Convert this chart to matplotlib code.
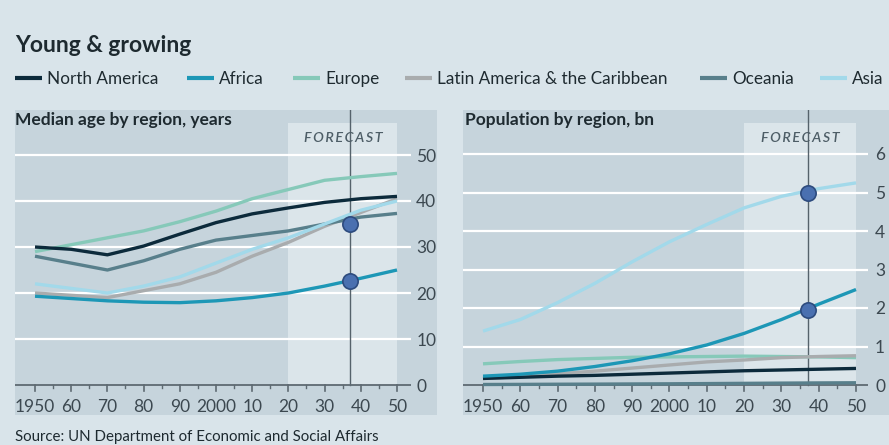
import matplotlib
matplotlib.use("Agg")
import matplotlib.pyplot as plt
from matplotlib.lines import Line2D
from matplotlib.patches import Rectangle

plt.rcParams['font.family'] = ['Lato', 'DejaVu Sans']

# ---------------- data ----------------
years = [1950, 1960, 1970, 1980, 1990, 2000, 2010, 2020, 2030, 2040, 2050]
regions = ["North America", "Africa", "Europe", "Latin America & the Caribbean", "Oceania", "Asia"]

age_north_america = [30.0, 29.5, 28.3, 30.2, 32.8, 35.3, 37.2, 38.5, 39.7, 40.5, 41.0]
age_africa        = [19.3, 18.8, 18.3, 18.0, 17.9, 18.3, 19.0, 20.0, 21.5, 23.2, 25.0]
age_europe        = [29.0, 30.5, 32.0, 33.5, 35.5, 37.8, 40.5, 42.5, 44.5, 45.3, 46.0]
age_latin         = [20.0, 19.5, 19.0, 20.5, 22.0, 24.5, 28.0, 31.0, 34.5, 37.5, 40.5]
age_oceania       = [28.0, 26.5, 25.0, 27.0, 29.5, 31.5, 32.5, 33.5, 35.0, 36.5, 37.3]
age_asia          = [22.0, 21.0, 20.0, 21.5, 23.5, 26.5, 29.5, 32.0, 35.0, 38.0, 40.0]

pop_north_america = [0.17, 0.20, 0.23, 0.25, 0.28, 0.31, 0.34, 0.37, 0.39, 0.41, 0.43]
pop_africa        = [0.23, 0.28, 0.36, 0.48, 0.63, 0.81, 1.04, 1.34, 1.70, 2.10, 2.48]
pop_europe        = [0.55, 0.61, 0.66, 0.69, 0.72, 0.73, 0.74, 0.75, 0.74, 0.73, 0.71]
pop_latin         = [0.17, 0.22, 0.29, 0.36, 0.44, 0.52, 0.60, 0.65, 0.71, 0.74, 0.76]
pop_oceania       = [0.013, 0.016, 0.020, 0.023, 0.027, 0.031, 0.037, 0.043, 0.049, 0.054, 0.058]
pop_asia          = [1.40, 1.70, 2.14, 2.64, 3.20, 3.72, 4.17, 4.60, 4.90, 5.10, 5.25]

marker_year = 2037
age_markers = [35.0, 22.7]
pop_markers = [5.0, 1.95]

forecast_start, forecast_end = 2020, 2050
xtick_years = [1950, 1960, 1970, 1980, 1990, 2000, 2010, 2020, 2030, 2040, 2050]
xtick_labels = ["1950", "60", "70", "80", "90", "2000", "10", "20", "30", "40", "50"]
age_ticks = [0, 10, 20, 30, 40, 50]
pop_ticks = [0, 1, 2, 3, 4, 5, 6]

# ---------------- style ----------------
FIG_BG = "#d9e4ea"
PANEL_BG = "#c6d4dc"
FORE_BG = "#dbe5ea"
colors = {
    "North America": "#0c2a3b",
    "Africa": "#1d97b6",
    "Europe": "#86c9b9",
    "Latin America & the Caribbean": "#a9acae",
    "Oceania": "#587f8b",
    "Asia": "#a2d9ea",
}
TEXT = "#1e2a30"
TICKC = "#3c4850"
AXC = "#5e6a72"

W, H = 889, 445
fig = plt.figure(figsize=(W / 100, H / 100), dpi=100, facecolor=FIG_BG)


def px_ax(x0, y0, x1, y1):
    return [x0 / W, 1 - y1 / H, (x1 - x0) / W, (y1 - y0) / H]


def setup(ax, xlim, ylim, yticks, grid_end, fore_top, pad):
    ax.set_facecolor(PANEL_BG)
    ax.set_xlim(*xlim)
    ax.set_ylim(*ylim)
    for s in ax.spines.values():
        s.set_visible(False)
    ax.add_patch(Rectangle((forecast_start, 0), forecast_end - forecast_start, fore_top,
                           facecolor=FORE_BG, edgecolor="none", zorder=0.5))
    for t in yticks[1:]:
        ax.plot([xlim[0], grid_end], [t, t], color="white", lw=1.6, zorder=1,
                solid_capstyle="butt")
    ax.plot([xlim[0], grid_end], [0, 0], color=AXC, lw=1.3, zorder=4,
            solid_capstyle="butt")
    ax.set_yticks(yticks)
    ax.set_yticklabels([str(t) for t in yticks])
    ax.tick_params(axis="y", left=False, right=False, labelleft=False, labelright=True,
                   pad=pad, labelsize=12.5, labelcolor=TICKC)
    ax.set_xticks(xtick_years)
    ax.set_xticklabels(xtick_labels)
    ax.tick_params(axis="x", which="major", direction="in", length=0, pad=-11.5,
                   labelsize=12.5, labelcolor=TICKC)
    ax.tick_params(axis="x", which="minor", length=0)
    # tick marks below axis line
    tl = (ylim[1] - ylim[0]) * 6 / 305
    for x in xtick_years:
        ax.plot([x, x], [0, -tl], color=AXC, lw=1.2, zorder=4)
    for x in range(1955, 2050, 10):
        ax.plot([x, x], [0, -tl * 0.55], color=AXC, lw=1.0, zorder=4)
    ax.plot([marker_year, marker_year], [0, ylim[1]], color="#55626b", lw=1.0, zorder=3)


FORECAST = "F\u2009O\u2009R\u2009E\u2009C\u2009A\u2009S\u2009T"

# left panel
axL = fig.add_axes(px_ax(15, 110, 437, 415))
xlimL = (1950 - 20 / 3.62, 2050 + 40 / 3.62)
ylimL = (-30 / 4.6, 275 / 4.6)
setup(axL, xlimL, ylimL, age_ticks, 2054, 262 / 4.6, -18.5)

left_series = [("Europe", age_europe), ("Latin America & the Caribbean", age_latin),
               ("Oceania", age_oceania), ("Asia", age_asia),
               ("North America", age_north_america), ("Africa", age_africa)]
for name, vals in left_series:
    axL.plot(years, vals, color=colors[name], lw=2.4, zorder=5, solid_capstyle="butt")
axL.plot([marker_year] * len(age_markers), age_markers, "o", ms=11, mfc="#4a70b0",
         mec="#2d4b7e", mew=1.2, zorder=6, ls="none")
axL.text(2035.2, 53.7, FORECAST, style="italic", fontweight="semibold",
         fontsize=10.3, color="#4d5d66", ha="center", va="center", zorder=6)

# right panel
axR = fig.add_axes(px_ax(463, 110, 889, 415))
xlimR = (1950 - 20 / 3.73, 2050 + 33 / 3.73)
ylimR = (-30 / 38.5, 275 / 38.5)
setup(axR, xlimR, ylimR, pop_ticks, 2053.2, 262 / 38.5, -13.5)

right_series = [("Oceania", pop_oceania), ("Europe", pop_europe),
                ("Latin America & the Caribbean", pop_latin),
                ("North America", pop_north_america), ("Asia", pop_asia),
                ("Africa", pop_africa)]
for name, vals in right_series:
    axR.plot(years, vals, color=colors[name], lw=2.4, zorder=5, solid_capstyle="butt")
axR.plot([marker_year] * len(pop_markers), pop_markers, "o", ms=11, mfc="#4a70b0",
         mec="#2d4b7e", mew=1.2, zorder=6, ls="none")
axR.text(2035.0, 6.42, FORECAST, style="italic", fontweight="semibold",
         fontsize=10.3, color="#4d5d66", ha="center", va="center", zorder=6)

# panel subtitles
fig.text(15 / W, 1 - 120 / H, "Median age by region, years", fontsize=12.5, fontweight="bold",
         color=TEXT, ha="left", va="center")
fig.text(465 / W, 1 - 120 / H, "Population by region, bn", fontsize=12.5, fontweight="bold",
         color=TEXT, ha="left", va="center")

# title
fig.text(15 / W, 1 - 45 / H, "Young & growing", fontsize=16.5, fontweight="bold",
         color=TEXT, ha="left", va="center")

# legend
leg_x = [15, 187, 293, 405, 700, 820]
ly = 1 - 79 / H
for name, x in zip(regions, leg_x):
    fig.add_artist(Line2D([x / W, (x + 27) / W], [ly + 1 / H, ly + 1 / H], color=colors[name],
                          lw=3, transform=fig.transFigure, solid_capstyle="butt"))
    fig.text((x + 32) / W, ly, name, fontsize=12.3, color=TEXT, ha="left", va="center")

# source
fig.text(15 / W, 1 - 437 / H, "Source: UN Department of Economic and Social Affairs",
         fontsize=10.8, color=TEXT, ha="left", va="center")

fig.savefig("out.png", dpi=100, facecolor=FIG_BG)
